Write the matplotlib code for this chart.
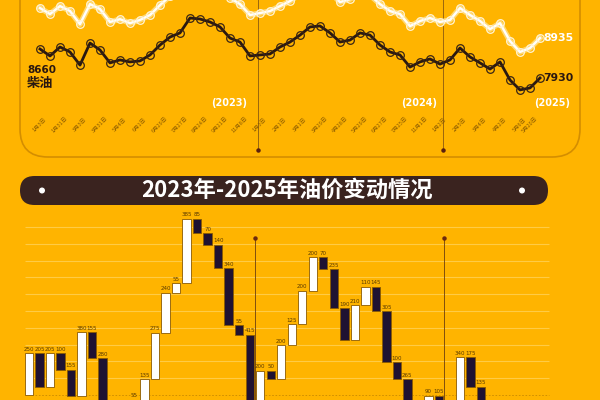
import matplotlib
matplotlib.use('Agg')
import matplotlib.pyplot as plt
from matplotlib.patches import FancyBboxPatch, Circle

plt.rcParams['font.family'] = ['Noto Sans CJK SC', 'DejaVu Sans']

# price series (yuan / ton), one point per adjustment
diesel = [8660, 8485, 8710, 8585, 8255, 8810, 8635, 8310, 8385, 8335,
          8360, 8510, 8760, 8960, 9065, 9440, 9415, 9340, 9215, 8935,
          8835, 8485, 8510, 8535, 8710, 8835, 9010, 9215, 9240, 9065,
          8835, 8885, 9065, 9010, 8760, 8585, 8510, 8205, 8335, 8410,
          8280, 8385, 8685, 8460, 8310, 8155, 8335, 7880, 7630, 7680, 7930]
gasoline = [9690, 9540, 9740, 9615, 9285, 9790, 9665, 9340, 9410, 9310,
            9390, 9515, 9765, 9990, 10090, 10470, 10445, 10370, 10220, 9945,
            9790, 9515, 9565, 9615, 9740, 9865, 10040, 10240, 10270, 10090,
            9840, 9915, 10065, 10015, 9790, 9615, 9540, 9235, 9365, 9440,
            9340, 9390, 9690, 9515, 9365, 9160, 9310, 8860, 8585, 8685, 8935]

tick_pos = [0, 2, 4, 6, 8, 10, 12, 14, 16, 18, 20,
            22, 24, 26, 28, 30, 32, 34, 36, 38,
            40, 42, 44, 46, 48, 49]
tick_labels = ['1月3日', '1月31日', '3月3日', '3月31日', '5月4日', '6月1日',
               '6月29日', '7月27日', '8月24日', '9月21日', '11月8日',
               '1月3日', '2月1日', '3月1日', '3月29日', '4月28日', '5月29日',
               '6月27日', '7月25日', '11月1日',
               '1月2日', '2月5日', '3月4日', '4月2日', '5月6日', '5月20日']
year_labels = ['(2023)', '(2024)', '(2025)']
year_pos = [20.7, 39.7, 53.0]
year_lines = [21.8, 40.3]

# waterfall: change at each adjustment (yuan / ton)
changes = [250, -205, 205, -100, -155, 380, -155, -280, -100, 65,
           55, 135, 275, 240, 55, 385, -85, -70, -140, -340,
           -55, -415, 200, -50, 200, 125, 200, 200, -70, -235,
           -190, 210, 110, -145, -305, -100, -265, 75, 90, -105,
           -5, 340, -175, -135, -40, 55, -100, -85, 95]
wf_lines = [21.5, 39.5]

title = '2023年-2025年油价变动情况'

bg = '#FFB400'
dark = '#2A1810'
navy = '#1F1232'

fig = plt.figure(figsize=(6, 4), dpi=100, facecolor=bg)

# ---- top line chart ----
ax1 = fig.add_axes([20 / 600, 243 / 400, 565 / 600, 157 / 400])
ax1.set_facecolor('none')
ax1.axis('off')
ax1.set_xlim(-2, 54.5)
ax1.set_ylim(5942, 9893)

x = list(range(len(diesel)))
ax1.plot(x, gasoline, color='#FFE9A6', lw=4, alpha=0.7, zorder=2)
ax1.plot(x, gasoline, color='white', lw=1.7, marker='o', ms=5.5,
         mfc='none', mec='#FFF4D6', mew=0.9, zorder=3)
ax1.plot(x, diesel, color=dark, lw=2.0, marker='o', ms=5.5,
         mfc='none', mec='#3A2514', mew=0.9, zorder=3)

for xl in year_lines:
    ax1.vlines(xl, 6118, 10000, color='#8A5A10', lw=0.6, zorder=1)
    ax1.plot(xl, 6118, 'o', ms=2.2, color='#5A2010', zorder=1)

for s, xp in zip(year_labels, year_pos):
    ax1.text(xp, 7301, s, ha='right', va='center', color='white',
             fontsize=7, fontweight='bold', family='DejaVu Sans')

for p, s in zip(tick_pos, tick_labels):
    ax1.text(p, 6747, s, rotation=45, ha='center', va='center',
             fontsize=4.0, color='#8A5A00')

ax1.text(-1.3, 8131, str(diesel[0]), ha='left', va='center', color=dark,
         fontsize=7.5, fontweight='bold', family='DejaVu Sans')
ax1.text(-1.3, 7804, '柴油', ha='left', va='center', color=dark,
         fontsize=9.5, fontweight='bold')
ax1.text(50.3, gasoline[-1], str(gasoline[-1]), ha='left', va='center',
         color='white', fontsize=7.8, fontweight='bold', family='DejaVu Sans')
ax1.text(50.3, diesel[-1], str(diesel[-1]), ha='left', va='center',
         color=dark, fontsize=7.8, fontweight='bold', family='DejaVu Sans')

panel = FancyBboxPatch((0.2, 2.43), 5.6, 2.2,
                       boxstyle='round,pad=0,rounding_size=0.28',
                       transform=fig.dpi_scale_trans, fc='none',
                       ec='#D48E00', lw=1.2)
fig.add_artist(panel)

# ---- banner ----
banner = FancyBboxPatch((0.2, 1.95), 5.28, 0.29,
                        boxstyle='round,pad=0,rounding_size=0.145',
                        transform=fig.dpi_scale_trans, fc='#3A231F', ec='none')
fig.add_artist(banner)
for cx in [0.42, 5.22]:
    fig.add_artist(Circle((cx, 2.095), 0.03, transform=fig.dpi_scale_trans,
                          fc='white', ec='none'))
fig.text(287 / 600, 1 - 190 / 400, title, ha='center', va='center',
         color='white', fontsize=16, fontweight='bold')

# ---- waterfall ----
ax2 = fig.add_axes([20 / 600, 0, 565 / 600, 193 / 400])
ax2.set_facecolor('none')
ax2.axis('off')
ax2.set_xlim(-0.856, 52.9)
ax2.set_ylim(-29.8, 1119)

for g in range(100, 1100, 100):
    ax2.hlines(g, -0.4, 49.5, color='#FFCB45', lw=0.8, zorder=0)
ax2.hlines(0, -0.4, 49.5, color='#C98A00', lw=0.6, ls=(0, (2, 2)), zorder=0)

level = 0
bottoms = []
for c in changes:
    bottoms.append(level)
    level += c
xs = list(range(len(changes)))
cols = ['white' if c > 0 else navy for c in changes]
ax2.bar(xs, changes, bottom=bottoms, width=0.8, color=cols,
        edgecolor='#8A5A00', lw=0.6, zorder=3)
for i, b, c in zip(xs, bottoms, changes):
    top = max(b, b + c)
    if top < -45:
        continue  # below the visible area
    ax2.text(i, max(top + 8, -18), str(abs(c)), ha='center', va='bottom',
             fontsize=4.0, color='#5A3A00', family='DejaVu Sans', zorder=4)

for xl in wf_lines:
    ax2.vlines(xl, -100, 934, color='#6B3E10', lw=0.6, zorder=2)
    ax2.plot(xl, 934, 'o', ms=2.2, color='#6B2A10', zorder=2)

fig.savefig('out.png', dpi=100, facecolor=bg)
